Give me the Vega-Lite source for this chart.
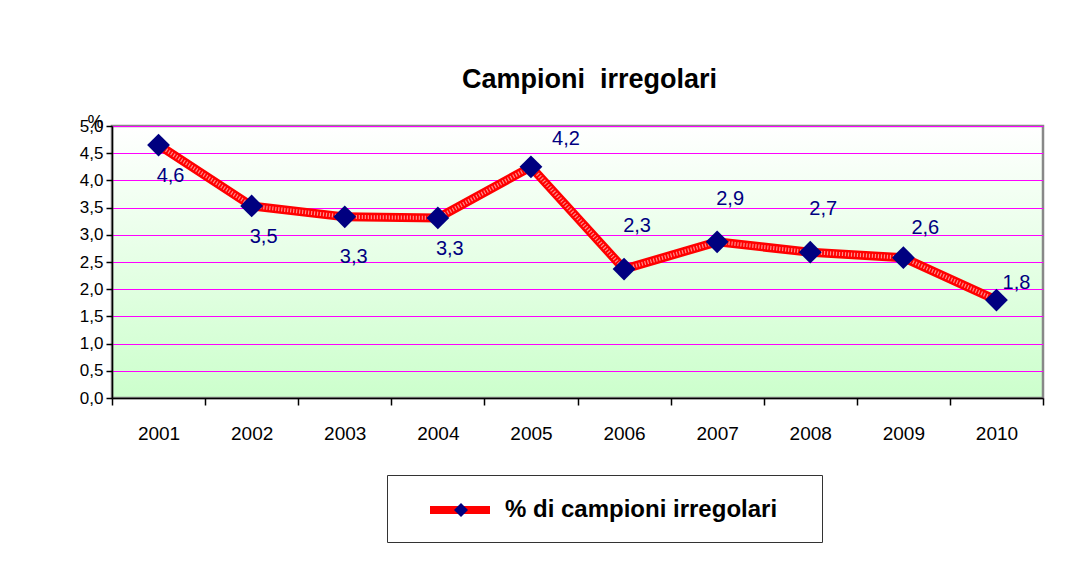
{
  "$schema": "https://vega.github.io/schema/vega-lite/v6.json",
  "width": 931,
  "height": 272,
  "autosize": {"type": "none"},
  "padding": {"left": 112, "top": 126, "right": 43, "bottom": 170},
  "background": "white",
  "title": {
    "text": "Campioni\u00a0 irregolari",
    "font": "Liberation Sans",
    "fontSize": 27,
    "fontWeight": "bold",
    "color": "#000000",
    "anchor": "middle",
    "dx": 12,
    "offset": 19
  },
  "config": {
    "locale": {"number": {"decimal": ",", "thousands": ".", "grouping": [3], "currency": ["€", ""]}},
    "view": {
      "stroke": "#888888",
      "strokeWidth": 2.5,
      "fill": {
        "gradient": "linear",
        "x1": 0, "y1": 0, "x2": 0, "y2": 1,
        "stops": [
          {"offset": 0, "color": "#ffffff"},
          {"offset": 1, "color": "#ccffcc"}
        ]
      }
    },
    "axis": {
      "labelFont": "Liberation Sans",
      "labelColor": "#000000",
      "domainColor": "#000000",
      "tickColor": "#000000",
      "domainWidth": 1.5,
      "tickWidth": 1.5
    }
  },
  "data": {
    "values": [
      {"anno": "2001", "valore": 4.65, "etichetta": "4,6", "serie": "% di campioni irregolari"},
      {"anno": "2002", "valore": 3.53, "etichetta": "3,5", "serie": "% di campioni irregolari"},
      {"anno": "2003", "valore": 3.33, "etichetta": "3,3", "serie": "% di campioni irregolari"},
      {"anno": "2004", "valore": 3.31, "etichetta": "3,3", "serie": "% di campioni irregolari"},
      {"anno": "2005", "valore": 4.25, "etichetta": "4,2", "serie": "% di campioni irregolari"},
      {"anno": "2006", "valore": 2.37, "etichetta": "2,3", "serie": "% di campioni irregolari"},
      {"anno": "2007", "valore": 2.87, "etichetta": "2,9", "serie": "% di campioni irregolari"},
      {"anno": "2008", "valore": 2.68, "etichetta": "2,7", "serie": "% di campioni irregolari"},
      {"anno": "2009", "valore": 2.58, "etichetta": "2,6", "serie": "% di campioni irregolari"},
      {"anno": "2010", "valore": 1.80, "etichetta": "1,8", "serie": "% di campioni irregolari"}
    ]
  },
  "encoding": {
    "x": {
      "field": "anno",
      "type": "ordinal",
      "title": null,
      "scale": {"paddingInner": 0, "paddingOuter": 0},
      "axis": {
        "labelAngle": 0,
        "labelFontSize": 19,
        "tickBand": "extent",
        "tickSize": 7,
        "labelPadding": 19,
        "domain": true
      }
    },
    "y": {
      "field": "valore",
      "type": "quantitative",
      "scale": {"domain": [0, 5], "nice": false},
      "axis": {
        "values": [0, 0.5, 1, 1.5, 2, 2.5, 3, 3.5, 4, 4.5, 5],
        "format": ".1f",
        "labelFontSize": 17,
        "title": "%",
        "titleAngle": 0,
        "titleFont": "Liberation Sans",
        "titleFontSize": 18,
        "titleFontWeight": "normal",
        "titleColor": "#000000",
        "titleAlign": "left",
        "titleBaseline": "bottom",
        "titleX": -25,
        "titleY": 5,
        "grid": true,
        "gridColor": "#ff00ff",
        "gridWidth": 1.2,
        "tickSize": 6,
        "labelPadding": 3
      }
    }
  },
  "layer": [
    {
      "mark": {"type": "line", "strokeWidth": 9, "strokeCap": "butt"},
      "encoding": {
        "stroke": {
          "field": "serie",
          "type": "nominal",
          "scale": {"range": ["#ff0000"]},
          "legend": {
            "orient": "none",
            "legendX": 275,
            "legendY": 349,
            "title": ".",
            "titleOrient": "right",
            "titleFontSize": 24,
            "titleOpacity": 0,
            "titlePadding": 22,
            "symbolType": "M-2,0H2",
            "symbolStrokeWidth": 8,
            "symbolSize": 900,
            "symbolOffset": 38,
            "labelOffset": 26,
            "labelFont": "Liberation Sans",
            "labelFontSize": 24,
            "labelFontWeight": "bold",
            "labelColor": "#000000",
            "labelLimit": 400,
            "padding": 16,
            "strokeColor": "#333333",
            "fillColor": "white"
          }
        }
      }
    },
    {
      "mark": {"type": "line", "stroke": "#ffffff", "strokeWidth": 4, "strokeDash": [1.2, 1.8], "opacity": 0.55},
      "encoding": {}
    },
    {
      "mark": {"type": "point", "shape": "diamond", "filled": true, "size": 520, "opacity": 1},
      "encoding": {
        "fill": {
          "field": "serie",
          "type": "nominal",
          "scale": {"range": ["#000080"]},
          "legend": {
            "orient": "none",
            "legendX": 341,
            "legendY": 376,
            "title": null,
            "symbolType": "diamond",
            "symbolSize": 196,
            "labelExpr": "''",
            "labelFontSize": 10,
            "padding": 0
          }
        }
      }
    },
    {
      "transform": [{"filter": "datum.anno == '2001' || datum.anno == '2002' || datum.anno == '2004'"}],
      "mark": {"type": "text", "font": "Liberation Sans", "fontSize": 20, "color": "#000080", "dx": 12, "dy": 31},
      "encoding": {"text": {"field": "etichetta"}}
    },
    {
      "transform": [{"filter": "datum.anno == '2003'"}],
      "mark": {"type": "text", "font": "Liberation Sans", "fontSize": 20, "color": "#000080", "dx": 9, "dy": 40},
      "encoding": {"text": {"field": "etichetta"}}
    },
    {
      "transform": [{"filter": "datum.anno == '2005'"}],
      "mark": {"type": "text", "font": "Liberation Sans", "fontSize": 20, "color": "#000080", "dx": 35, "dy": -28},
      "encoding": {"text": {"field": "etichetta"}}
    },
    {
      "transform": [{"filter": "datum.anno >= '2006' && datum.anno <= '2008'"}],
      "mark": {"type": "text", "font": "Liberation Sans", "fontSize": 20, "color": "#000080", "dx": 13, "dy": -43},
      "encoding": {"text": {"field": "etichetta"}}
    },
    {
      "transform": [{"filter": "datum.anno == '2009'"}],
      "mark": {"type": "text", "font": "Liberation Sans", "fontSize": 20, "color": "#000080", "dx": 22, "dy": -30},
      "encoding": {"text": {"field": "etichetta"}}
    },
    {
      "transform": [{"filter": "datum.anno == '2010'"}],
      "mark": {"type": "text", "font": "Liberation Sans", "fontSize": 20, "color": "#000080", "dx": 20, "dy": -17},
      "encoding": {"text": {"field": "etichetta"}}
    }
  ]
}
